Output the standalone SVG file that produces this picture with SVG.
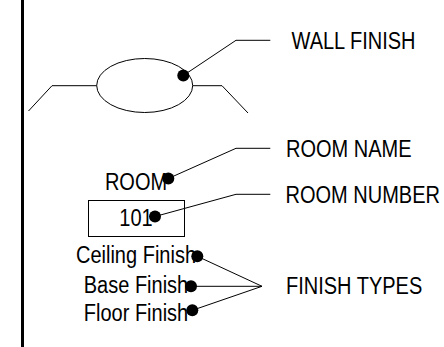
<svg xmlns="http://www.w3.org/2000/svg" width="444" height="347" viewBox="0 0 444 347">
<style>
.ln{fill:none;stroke:#000;stroke-width:1}
.t{font-family:"Liberation Sans",Arial,sans-serif;font-size:20px;fill:#000}
.m{text-anchor:middle}
.dot{fill:#000}
</style>
<rect width="444" height="347" fill="#fff"/>
<g id="wall-edge"><line x1="22.5" y1="0" x2="22.5" y2="347" stroke="#000" stroke-width="3"/></g>
<g id="wall-symbol">
<ellipse class="ln" cx="144.7" cy="85.5" rx="48" ry="27"/>
<polyline class="ln" points="28.5,111 52,85.7 96.7,85.7"/>
<polyline class="ln" points="192.7,85.7 222,85.7 248,113"/>
</g>
<g id="room-tag">
<text class="t m" transform="translate(136,189.5) scale(1,1.15)">ROOM</text>
<rect class="ln" x="88.5" y="200.5" width="96" height="36"/>
<text class="t m" transform="translate(136,226) scale(1,1.15)">101</text>
<text class="t m" transform="translate(136,263) scale(1,1.15)">Ceiling Finish</text>
<text class="t m" transform="translate(136,293) scale(1,1.15)">Base Finish</text>
<text class="t m" transform="translate(136,320.5) scale(1,1.15)">Floor Finish</text>
</g>
<g id="labels">
<text class="t" transform="translate(291.5,48.5) scale(1,1.15)">WALL FINISH</text>
<text class="t" transform="translate(286,156.5) scale(1,1.15)">ROOM NAME</text>
<text class="t" transform="translate(285.5,202.5) scale(1,1.15)">ROOM NUMBER</text>
<text class="t" transform="translate(286,294) scale(1,1.15)">FINISH TYPES</text>
</g>
<g id="connectors">
<polyline class="ln" points="183.3,75.5 236,40.3 270.3,40.3"/>
<polyline class="ln" points="168.3,178.5 236,148.3 270.3,148.3"/>
<polyline class="ln" points="155,216.5 236,194.3 270.3,194.3"/>
<polyline class="ln" points="197.3,256.3 262,286.3 191,286.3"/>
<line class="ln" x1="192.3" y1="310.3" x2="262" y2="286.3"/>
<circle class="dot" cx="183.3" cy="75.5" r="6"/>
<circle class="dot" cx="168.3" cy="178.5" r="6"/>
<circle class="dot" cx="155" cy="216.5" r="6"/>
<circle class="dot" cx="197.3" cy="256.3" r="6"/>
<circle class="dot" cx="191" cy="286.3" r="6"/>
<circle class="dot" cx="192.3" cy="310.3" r="6"/>
</g>
</svg>
